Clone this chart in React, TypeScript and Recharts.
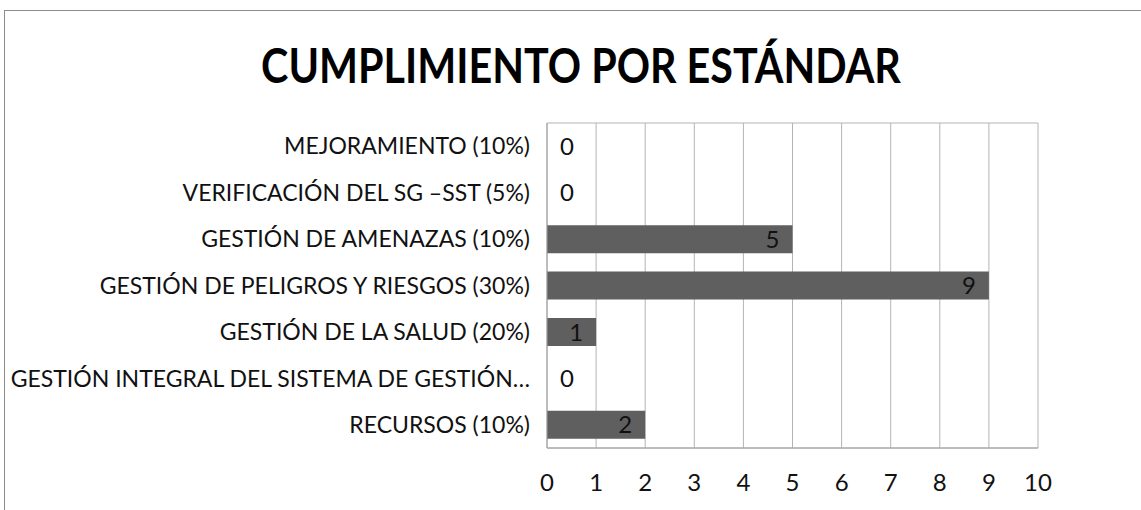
import React from 'react'
import { BarChart, Bar, XAxis, YAxis, CartesianGrid, LabelList } from 'recharts'

const categories = [
  'MEJORAMIENTO (10%)',
  'VERIFICACIÓN DEL SG –SST (5%)',
  'GESTIÓN DE AMENAZAS (10%)',
  'GESTIÓN DE PELIGROS Y RIESGOS (30%)',
  'GESTIÓN DE LA SALUD (20%)',
  'GESTIÓN INTEGRAL DEL SISTEMA DE GESTIÓN…',
  'RECURSOS (10%)',
]
const scores = [0, 0, 5, 9, 1, 0, 2]
const xTicks = [0, 1, 2, 3, 4, 5, 6, 7, 8, 9, 10]

const data = categories.map((name, i) => ({ name, value: scores[i] }))

const FONT = 'Lato, "Open Sans", sans-serif'

// Etiqueta estilo Excel: dentro del extremo, o fuera si la barra vale 0
const ValueLabel = (props: any) => {
  const { x, y, width, height, value } = props
  const end = x + width
  const cx = value === 0 ? end + 20 : end - 20
  return (
    <text x={cx} y={y + height / 2} dy="0.36em" textAnchor="middle" fontSize={24} fontFamily={FONT} fill="#111">
      {value}
    </text>
  )
}

export default function App() {
  return (
    <div style={{ position: 'absolute', left: 0, top: 0, width: 1141, height: 510, overflow: 'hidden', background: '#fff' }}>
      <div
        style={{
          position: 'absolute',
          left: 4,
          top: 10,
          width: 1160,
          height: 520,
          border: '1px solid #8c8c8c',
        }}
      />
      <svg width={1141} height={110} style={{ position: 'absolute', left: 0, top: 0 }}>
        <text
          transform="translate(581,83) scale(0.86,1)"
          textAnchor="middle"
          fontFamily={FONT}
          fontWeight={700}
          fontSize={48}
          fill="#000"
        >
          CUMPLIMIENTO POR ESTÁNDAR
        </text>
      </svg>
      <div style={{ position: 'absolute', left: 0, top: 0 }}>
        <BarChart
          width={1141}
          height={510}
          data={data}
          layout="vertical"
          margin={{ top: 123, right: 103, bottom: 22, left: 0 }}
          barCategoryGap="20%"
        >
          <CartesianGrid
            stroke="#b4b4b4"
            horizontalCoordinatesGenerator={(p: any) => [p.offset.top, p.offset.top + p.offset.height]}
          />
          <XAxis
            type="number"
            domain={[0, 10]}
            ticks={xTicks}
            interval={0}
            height={40}
            tickSize={0}
            tickMargin={26}
            axisLine={{ stroke: '#a0a0a0' }}
            tickLine={false}
            tick={{ fontSize: 24, fontFamily: FONT, fill: '#111' }}
          />
          <YAxis
            type="category"
            dataKey="name"
            width={547}
            tickSize={0}
            tickMargin={17}
            interval={0}
            axisLine={{ stroke: '#a0a0a0' }}
            tickLine={false}
            tick={{ fontSize: 23, fontFamily: FONT, fill: '#111' }}
          />
          <Bar dataKey="value" fill="#5f5f5f" minPointSize={0.01} isAnimationActive={false}>
            <LabelList dataKey="value" content={<ValueLabel />} />
          </Bar>
        </BarChart>
      </div>
    </div>
  )
}
